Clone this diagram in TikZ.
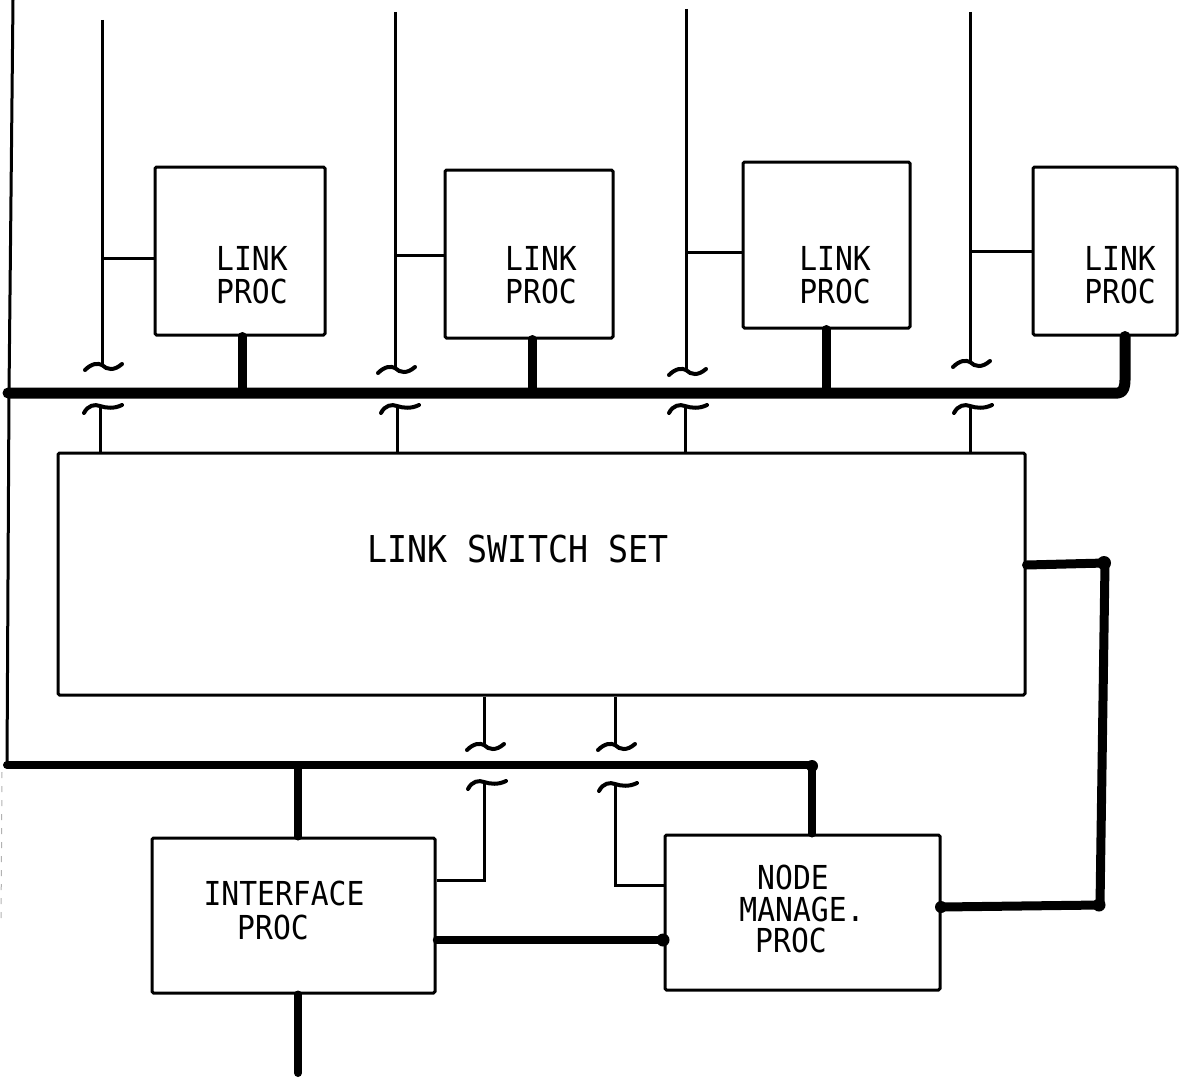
\documentclass[tikz,border=0pt]{standalone}
\usepackage{fontspec}
\newfontfamily\lbl{DejaVu Sans Mono}[FakeStretch=0.9]
\begin{document}
\begin{tikzpicture}[x=1pt,y=-1pt,
  thin/.style={line width=3pt},
  pbox/.style={draw, line width=3pt, rounded corners=1.5pt, inner sep=0pt},
  bus/.style={line width=11pt, line join=round, line cap=round},
  bus2/.style={line width=8pt, line join=round, line cap=round},
  stub/.style={line width=9pt, line cap=round},
  txt/.style={font=\lbl\fontsize{33}{36}\selectfont, inner sep=0pt},
  bigtxt/.style={font=\lbl\fontsize{37}{40}\selectfont, inner sep=0pt},
  endtilde/.pic={\draw[line width=4pt, line cap=round] (-17,5) .. controls (-10,-2) and (-4,-2) .. (0,0) .. controls (5,5) and (12,6) .. (20,-1);},
  starttilde/.pic={\draw[line width=4pt, line cap=round] (-16,7) .. controls (-12,-1) and (-5,-2) .. (0,0) .. controls (6,2) and (14,3) .. (22,-1);},
  blob/.style={circle, fill, inner sep=0pt, minimum size=#1}
]
\useasboundingbox (0,0) rectangle (1204,1081);

% link processor boxes
\node[pbox, minimum width=170pt, minimum height=168pt] (lp1) at (240,251) {};
\node[pbox, minimum width=168pt, minimum height=168pt] (lp2) at (529,254) {};
\node[pbox, minimum width=167pt, minimum height=166pt] (lp3) at (826.5,245) {};
\node[pbox, minimum width=144pt, minimum height=168pt] (lp4) at (1105,251) {};
\foreach \n/\x in {1/252,2/541,3/835,4/1120}{
  \node[txt] (lp\n a) at (\x,258) {LINK};
  \node[txt] (lp\n b) at (\x,291) {PROC};
}

% link switch set
\node[pbox, minimum width=967pt, minimum height=242pt] (lss) at (541.5,574) {};
\node[bigtxt] (lsst) at (518,549) {LINK SWITCH SET};

% interface and node management processors
\node[pbox, minimum width=283pt, minimum height=155pt] (ip) at (293.5,915.5) {};
\node[txt] (ipa) at (284,893) {INTERFACE};
\node[txt] (ipb) at (273,927) {PROC};
\node[pbox, minimum width=275pt, minimum height=155pt] (nmp) at (802.5,912.5) {};
\node[txt] (nmpa) at (793,877) {NODE};
\node[txt] (nmpb) at (802,909) {MANAGE.};
\node[txt] (nmpc) at (791,940) {PROC};

% incoming signal lines with break marks
\foreach \n/\x/\t/\e/\b in {1/102/20/365/258, 2/395/12/368/255, 3/686/9/370/252, 4/970/12/362/251}{
  \coordinate (s\n top) at (\x,\t);
  \coordinate (s\n end) at (\x,\e);
  \draw[thin] (s\n top) -- (s\n end);
  \pic at (s\n end) {endtilde};
  \draw[thin] (\x,\b) -- (lp\n.west |- \x,\b);
}

% lines from link switch set up to break marks
\foreach \n/\x in {1/100,2/397,3/685,4/970}{
  \coordinate (u\n) at (\x,406);
  \pic at (u\n) {starttilde};
  \draw[thin] (u\n) -- (lss.north -| \x,0);
}

% upper bus
\draw[thin] (13,0) -- (9,393) -- (7,766);
\draw[bus] (8,393) -- (1118,393) to[out=0,in=-90] (1125,380) -- (lp4.south -| 1125,0);
\draw[stub] (lp1.south -| 242,0) -- (242,393);
\draw[stub] (lp2.south -| 532,0) -- (532,393);
\draw[stub] (lp3.south -| 826,0) -- (826,393);

% lower bus
\draw[bus2] (7,765) -- (812,765) -- (nmp.north -| 812,0);
\node[blob=12pt] (c1) at (812,766) {};
\draw[stub, line width=8pt] (298,765) -- (ip.north -| 298,0);
\draw[stub, line width=8pt] (ip.south -| 298,0) -- (298,1073);

% lss bottom lines with breaks
\coordinate (d1) at (484,745);
\coordinate (d2) at (615,745);
\draw[thin] (lss.south -| d1) -- (d1);
\draw[thin] (lss.south -| d2) -- (d2);
\pic at (d1) {endtilde};
\pic at (d2) {endtilde};
\coordinate (e1) at (484,782);
\coordinate (e2) at (615,784);
\pic at (e1) {starttilde};
\pic at (e2) {starttilde};
\draw[thin] (e1) -- (484,880) -- (ip.east |- 0,880);
\draw[thin] (e2) -- (615,885) -- (nmp.west |- 0,885);

% ip to nmp
\draw[bus2, line width=7.5pt] (ip.east |- 0,940) -- (nmp.west |- 0,940);
\node[blob=13pt] (c2) at (663,940) {};

% lss to nmp
\draw[bus2, line width=9pt] (lss.east |- 0,565) -- (1105,563) -- (1100,905) -- (nmp.east |- 0,907);
\node[blob=14pt] (c3) at (1104,563) {};
\node[blob=13pt] (c4) at (1099,905) {};
\node[blob=12pt] (c5) at (941,907) {};

% faint scan edge
\draw[gray!60, line width=1pt, dash pattern=on 6pt off 8pt] (2,772) -- (1,925);
\end{tikzpicture}
\end{document}
